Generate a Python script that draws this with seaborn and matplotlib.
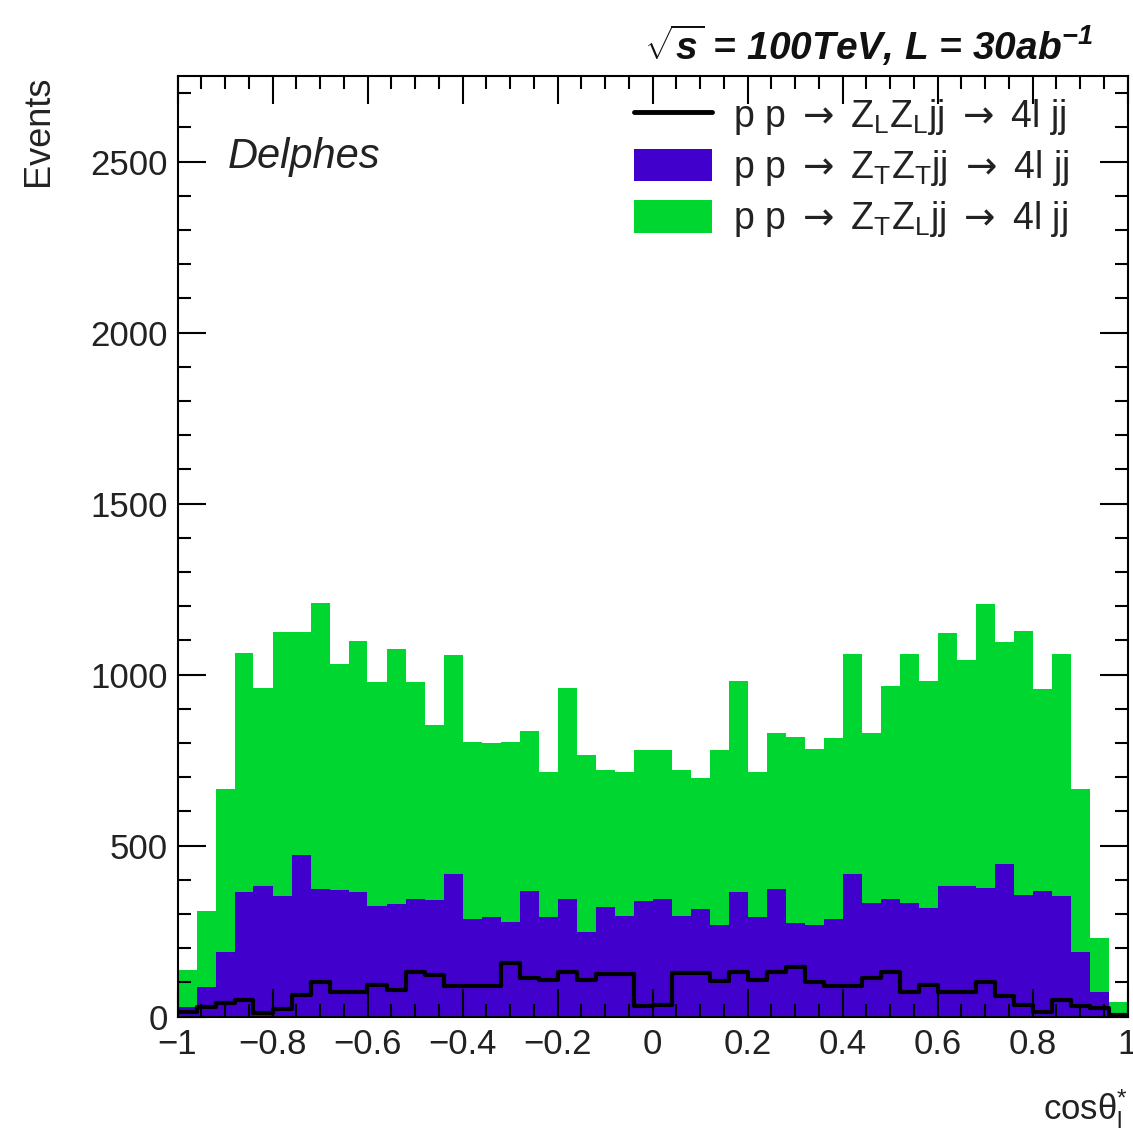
import numpy as np
import pandas as pd
import matplotlib
matplotlib.use("Agg")
import matplotlib.pyplot as plt
import seaborn as sns
from matplotlib.lines import Line2D
from matplotlib.patches import Patch
from matplotlib.ticker import MultipleLocator, FuncFormatter

# 50 bins in cos(theta*_l) from -1 to 1
n_bins = 50
x_range = (-1.0, 1.0)
bin_edges = np.linspace(x_range[0], x_range[1], n_bins + 1)
bin_centers = 0.5 * (bin_edges[:-1] + bin_edges[1:])

# Stacked histogram heights (events per bin)
stack_zt_zl = [137, 310, 667, 1063, 962, 1125, 1125, 1209, 1030, 1099,
               979, 1074, 979, 853, 1057, 804, 801, 804, 835, 715,
               962, 765, 721, 716, 780, 780, 721, 697, 780, 980,
               714, 828, 818, 782, 816, 1060, 830, 967, 1060, 982,
               1121, 1042, 1206, 1096, 1128, 957, 1060, 667, 229, 44]
stack_zt_zt = [29, 88, 189, 365, 381, 354, 474, 374, 371, 365,
               323, 330, 344, 340, 418, 287, 291, 276, 367, 290,
               344, 248, 321, 294, 338, 344, 293, 315, 269, 364,
               290, 374, 275, 269, 286, 416, 333, 344, 333, 318,
               381, 381, 377, 445, 355, 367, 352, 190, 71, 12]
zl_zl = [15, 28, 41, 49, 10, 22, 63, 102, 73, 73,
         92, 79, 132, 122, 90, 90, 90, 156, 113, 106,
         132, 106, 125, 125, 30, 34, 127, 127, 105, 132,
         107, 132, 145, 100, 90, 90, 113, 132, 73, 93,
         73, 73, 102, 60, 33, 14, 49, 32, 25, 6]

ARROW = r"$\mathtt{\rightarrow}$"
labels = [f"p p {ARROW} Z$_{{\\mathsf{{L}}}}$Z$_{{\\mathsf{{L}}}}$jj {ARROW} 4l jj",
          f"p p {ARROW} Z$_{{\\mathsf{{T}}}}$Z$_{{\\mathsf{{T}}}}$jj {ARROW} 4l jj",
          f"p p {ARROW} Z$_{{\\mathsf{{T}}}}$Z$_{{\\mathsf{{L}}}}$jj {ARROW} 4l jj"]

GREEN = "#00D630"
PURPLE = "#4100CC"

sns.set_style("ticks")
plt.rcParams["font.family"] = ["Liberation Sans", "DejaVu Sans"]
plt.rcParams["mathtext.fontset"] = "custom"
plt.rcParams["mathtext.rm"] = "Liberation Sans:bold:italic"
plt.rcParams["mathtext.it"] = "Liberation Sans:bold:italic"
plt.rcParams["mathtext.bf"] = "Liberation Sans:bold:italic"
plt.rcParams["mathtext.sf"] = "Liberation Sans"
plt.rcParams["mathtext.tt"] = "DejaVu Sans"

W, H = 1133, 1137
fig = plt.figure(figsize=(W / 100, H / 100), dpi=100)
x0, x1, ytop, ybot = 177.5, 1127.5, 76, 1016.7
ax = fig.add_axes([x0 / W, 1 - ybot / H, (x1 - x0) / W, (ybot - ytop) / H])

df = pd.DataFrame({"cos": bin_centers, "zt_zl": stack_zt_zl,
                   "zt_zt": stack_zt_zt, "zl_zl": zl_zl})

hist_kws = dict(data=df, x="cos", bins=n_bins, binrange=x_range,
                element="step", ax=ax)
sns.histplot(weights="zt_zl", fill=True, color=GREEN, alpha=1, linewidth=0, **hist_kws)
sns.histplot(weights="zt_zt", fill=True, color=PURPLE, alpha=1, linewidth=0, **hist_kws)
sns.histplot(weights="zl_zl", fill=False, color="black", linewidth=3, **hist_kws)

ax.set_xlim(*x_range)
ax.set_ylim(0, 2750)
ax.set_axisbelow(False)


def tick_text(v, pos):
    v = round(v, 6)
    if v == 0:
        return "0"
    return f"{v:g}".replace("-", "\u2212")


ax.xaxis.set_major_locator(MultipleLocator(0.2))
ax.xaxis.set_minor_locator(MultipleLocator(0.05))
ax.yaxis.set_major_locator(MultipleLocator(500))
ax.yaxis.set_minor_locator(MultipleLocator(100))
ax.xaxis.set_major_formatter(FuncFormatter(tick_text))
ax.yaxis.set_major_formatter(FuncFormatter(tick_text))

ax.tick_params(which="both", direction="in", top=True, right=True,
               width=1.5, color="black", labelsize=25, labelcolor="#222222")
ax.tick_params(which="major", length=20)
ax.tick_params(which="minor", length=9.5)
ax.tick_params(axis="x", pad=8)
ax.tick_params(axis="y", pad=7)
for s in ax.spines.values():
    s.set_linewidth(1.5)
    s.set_color("black")

ax.set_ylabel("Events", fontsize=26, loc="top", color="#222222")
ax.yaxis.set_label_coords(-0.128, 1.0)
ax.set_xlabel(r"cosθ$^{\mathsf{*}}_{\mathsf{l}}$", fontsize=25, loc="right",
              color="#222222")
ax.xaxis.set_label_coords(1.0, -0.075)

ax.text(0.053, 0.914, "Delphes", transform=ax.transAxes, fontsize=30,
        fontstyle="italic", ha="left", va="center", color="#222222")

fig.text(1093 / W, 1 - 45 / H, r"$\sqrt{s}$ = 100TeV, L = 30ab$^{-1}$",
         fontsize=28, fontweight="bold", fontstyle="italic", ha="right",
         va="center", color="#111111")

handles = [Line2D([], [], color="black", linewidth=3.5),
           Patch(facecolor=PURPLE, edgecolor="none"),
           Patch(facecolor=GREEN, edgecolor="none")]
ax.legend(handles, labels, loc="upper left", bbox_to_anchor=(0.48, 0.978),
          frameon=False, fontsize=27, handlelength=2.1, handleheight=0.97,
          handletextpad=0.55, labelspacing=0.3, borderpad=0, borderaxespad=0,
          labelcolor="#222222")

fig.savefig("out.png", dpi=100)
